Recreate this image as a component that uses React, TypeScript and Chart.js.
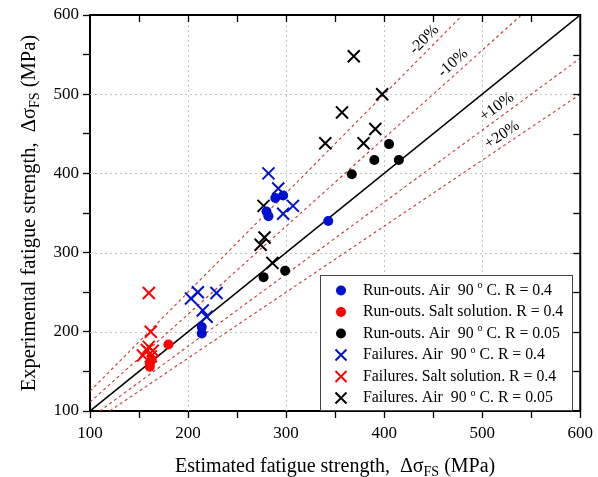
import React, { useEffect, useRef } from "react";
import { Chart, registerables } from "chart.js";

Chart.register(...registerables);

const FONT = "'Liberation Serif', 'Times New Roman', serif";

// ---- data (MPa) ----
const runAir04X = [343, 282, 280, 289, 297, 214, 214];
const runAir04Y = [340, 346, 352, 369, 372, 206, 198];

const runSaltX = [180, 161, 161, 163];
const runSaltY = [184, 156, 160, 165];

const runAir005X = [277, 299, 367, 390, 415, 405];
const runAir005Y = [269, 277, 399, 417, 417, 437];

const failAir04X = [282, 292, 307, 297, 210, 229, 203, 215, 219];
const failAir04Y = [400, 381, 359, 349, 250, 249, 242, 227, 219];

const failSaltX = [160, 162, 160, 154, 164, 162, 158];
const failSaltY = [249, 200, 181, 170, 176, 169, 177];

const failAir005X = [369, 398, 357, 391, 379, 340, 277, 278, 274, 286];
const failAir005Y = [548, 500, 477, 456, 438, 438, 359, 319, 310, 287];

const seriesNames = [
  "Run-outs. Air  90 ° C. R = 0.4",
  "Run-outs. Salt solution. R = 0.4",
  "Run-outs. Air  90 ° C. R = 0.05",
  "Failures. Air  90 ° C. R = 0.4",
  "Failures. Salt solution. R = 0.4",
  "Failures. Air  90 ° C. R = 0.05",
];

const deviationFactors = [0.8, 0.9, 1.1, 1.2];
const deviationLabels = ["-20%", "-10%", "+10%", "+20%"];
const refLineX = [100, 600];

const axisMin = 100;
const axisMax = 600;
const gridValues = [200, 300, 400, 500];
const xTitleParts = ["Estimated fatigue strength,  \u0394\u03C3", "FS", " (MPa)"];
const yTitleParts = ["Experimental fatigue strength,  \u0394\u03C3", "FS", " (MPa)"];

const BLUE = "#0010d0";
const RED = "#ff0000";
const BLACK = "#000000";
const seriesColors = [BLUE, RED, BLACK, BLUE, RED, BLACK];
const seriesIsCross = [false, false, false, true, true, true];

const zip = (xs: number[], ys: number[]) => xs.map((x, i) => ({ x, y: ys[i] }));

function drawTitle(ctx: CanvasRenderingContext2D, parts: string[], size: number) {
  const main = `${size}px ${FONT}`;
  const sub = `${Math.round(size * 0.68)}px ${FONT}`;
  ctx.font = main;
  const w0 = ctx.measureText(parts[0]).width;
  const w2 = ctx.measureText(parts[2]).width;
  ctx.font = sub;
  const w1 = ctx.measureText(parts[1]).width;
  const total = w0 + w1 + w2;
  let x = -total / 2;
  const base = size * 0.35;
  ctx.textAlign = "left";
  ctx.textBaseline = "alphabetic";
  ctx.fillStyle = "#000";
  ctx.font = main;
  ctx.fillText(parts[0], x, base);
  x += w0;
  ctx.font = sub;
  ctx.fillText(parts[1], x, base + size * 0.18);
  x += w1;
  ctx.font = main;
  ctx.fillText(parts[2], x, base);
}

function drawLegendText(ctx: CanvasRenderingContext2D, text: string, x: number, y: number, size: number) {
  const segs = text.split("°");
  ctx.textAlign = "left";
  ctx.textBaseline = "middle";
  ctx.fillStyle = "#000";
  let cx = x;
  segs.forEach((s, i) => {
    if (i > 0) {
      ctx.font = `${Math.round(size * 0.65)}px ${FONT}`;
      ctx.fillText("o", cx, y - size * 0.3);
      cx += ctx.measureText("o").width;
    }
    ctx.font = `${size}px ${FONT}`;
    ctx.fillText(s, cx, y);
    cx += ctx.measureText(s).width;
  });
}

const gridPlugin = {
  id: "dotgrid",
  beforeDatasetsDraw(chart: any) {
    const ctx: CanvasRenderingContext2D = chart.ctx;
    const { left, right, top, bottom } = chart.chartArea;
    const xs = chart.scales.x;
    const ys = chart.scales.y;
    ctx.save();
    ctx.strokeStyle = "#c2c2c2";
    ctx.lineWidth = 1;
    ctx.setLineDash([2, 3]);
    gridValues.forEach((v) => {
      const px = Math.round(xs.getPixelForValue(v)) + 0.5;
      ctx.beginPath();
      ctx.moveTo(px, top);
      ctx.lineTo(px, bottom);
      ctx.stroke();
      const py = Math.round(ys.getPixelForValue(v)) + 0.5;
      ctx.beginPath();
      ctx.moveTo(left, py);
      ctx.lineTo(right, py);
      ctx.stroke();
    });
    ctx.restore();
  },
};

const overlayPlugin = {
  id: "overlay",
  afterDraw(chart: any) {
    const ctx: CanvasRenderingContext2D = chart.ctx;
    const { left, right, top, bottom } = chart.chartArea;
    const xs = chart.scales.x;
    const ys = chart.scales.y;
    ctx.save();

    // top & right frame with inward ticks
    ctx.strokeStyle = "#000";
    ctx.lineWidth = 2;
    ctx.beginPath();
    ctx.moveTo(left - 1, top);
    ctx.lineTo(right, top);
    ctx.lineTo(right, bottom + 1);
    ctx.stroke();
    ctx.lineWidth = 1.3;
    for (let v = axisMin + 50; v < axisMax; v += 50) {
      const px = Math.round(xs.getPixelForValue(v)) + 0.5;
      ctx.beginPath();
      ctx.moveTo(px, top);
      ctx.lineTo(px, top + 7);
      ctx.stroke();
      const py = Math.round(ys.getPixelForValue(v)) + 0.5;
      ctx.beginPath();
      ctx.moveTo(right, py);
      ctx.lineTo(right - 7, py);
      ctx.stroke();
    }

    // deviation labels
    const anchors = [448, 477, 521, 526];
    deviationFactors.forEach((f, i) => {
      const ax = anchors[i];
      const px = xs.getPixelForValue(ax);
      const py = ys.getPixelForValue(ax / f);
      const dx = xs.getPixelForValue(ax + 10) - px;
      const dy = ys.getPixelForValue((ax + 10) / f) - py;
      const ang = Math.atan2(dy, dx);
      ctx.save();
      ctx.translate(px, py);
      ctx.rotate(ang);
      ctx.font = `16px ${FONT}`;
      ctx.fillStyle = "#000";
      ctx.textAlign = "center";
      ctx.textBaseline = "middle";
      ctx.fillText(deviationLabels[i], 0, -10);
      ctx.restore();
    });

    // legend
    const lx = 320.5, ly = 275.5, lw = 252, lh = 135;
    ctx.fillStyle = "#fff";
    ctx.fillRect(lx, ly, lw, lh);
    ctx.strokeStyle = "#444";
    ctx.lineWidth = 1;
    ctx.strokeRect(lx, ly, lw, lh);
    seriesNames.forEach((name, i) => {
      const cy = 290.5 + i * 21.5;
      const mx = 341;
      ctx.fillStyle = seriesColors[i];
      ctx.strokeStyle = seriesColors[i];
      if (seriesIsCross[i]) {
        ctx.lineWidth = 2;
        const h = 5.5;
        ctx.beginPath();
        ctx.moveTo(mx - h, cy - h);
        ctx.lineTo(mx + h, cy + h);
        ctx.moveTo(mx - h, cy + h);
        ctx.lineTo(mx + h, cy - h);
        ctx.stroke();
      } else {
        ctx.beginPath();
        ctx.arc(mx, cy, 5, 0, Math.PI * 2);
        ctx.fill();
      }
      drawLegendText(ctx, name, 363, cy, 15.8);
    });

    // axis titles
    ctx.save();
    ctx.translate((left + right) / 2, 465);
    drawTitle(ctx, xTitleParts, 20);
    ctx.restore();
    ctx.save();
    ctx.translate(28, (top + bottom) / 2);
    ctx.rotate(-Math.PI / 2);
    drawTitle(ctx, yTitleParts, 20.5);
    ctx.restore();

    ctx.restore();
  },
};

export default function App() {
  const ref = useRef<HTMLCanvasElement | null>(null);
  useEffect(() => {
    if (!ref.current) return;
    const pointSets = [
      zip(runAir04X, runAir04Y),
      zip(runSaltX, runSaltY),
      zip(runAir005X, runAir005Y),
      zip(failAir04X, failAir04Y),
      zip(failSaltX, failSaltY),
      zip(failAir005X, failAir005Y),
    ];
    const scatterSets = pointSets.map((data, i) => ({
      type: "scatter" as const,
      label: seriesNames[i],
      data,
      pointStyle: seriesIsCross[i] ? "crossRot" : "circle",
      pointRadius: seriesIsCross[i] ? 8.5 : 5,
      pointBorderWidth: seriesIsCross[i] ? 2 : 0,
      pointBackgroundColor: seriesColors[i],
      pointBorderColor: seriesColors[i],
      showLine: false,
      order: 1,
    }));
    const identity = {
      type: "line" as const,
      label: "1:1",
      data: refLineX.map((x) => ({ x, y: x })),
      borderColor: "#000",
      borderWidth: 1.6,
      pointRadius: 0,
      fill: false,
      order: 5,
    };
    const devSets = deviationFactors.map((f, i) => ({
      type: "line" as const,
      label: deviationLabels[i],
      data: refLineX.map((x) => ({ x, y: x / f })),
      borderColor: "#c03a36",
      borderWidth: 1.1,
      borderDash: [3, 3],
      pointRadius: 0,
      fill: false,
      order: 6,
    }));
    const tickFont = { family: FONT, size: 17 };
    const chart = new Chart(ref.current, {
      type: "scatter",
      data: { datasets: [...scatterSets, identity, ...devSets] as any },
      plugins: [gridPlugin, overlayPlugin],
      options: {
        animation: false,
        responsive: false,
        layout: { padding: { top: 15, right: 17, left: 0, bottom: 0 } },
        plugins: { legend: { display: false }, tooltip: { enabled: false } },
        scales: {
          x: {
            type: "linear",
            min: axisMin,
            max: axisMax,
            afterFit: (s: any) => {
              s.height = 66;
            },
            ticks: {
              stepSize: 50,
              autoSkip: false,
              maxRotation: 0,
              padding: 5,
              color: "#000",
              font: tickFont,
              callback: (v: any) => (Number(v) % 100 === 0 ? String(v) : ""),
            },
            grid: { drawOnChartArea: false, tickColor: "#000", tickLength: 7, tickWidth: 1.3, lineWidth: 1 },
            border: { color: "#000", width: 2 },
          },
          y: {
            type: "linear",
            min: axisMin,
            max: axisMax,
            afterFit: (s: any) => {
              s.width = 90;
            },
            ticks: {
              stepSize: 50,
              autoSkip: false,
              padding: 4,
              color: "#000",
              font: tickFont,
              callback: (v: any) => (Number(v) % 100 === 0 ? String(v) : ""),
            },
            grid: { drawOnChartArea: false, tickColor: "#000", tickLength: 7, tickWidth: 1.3, lineWidth: 1 },
            border: { color: "#000", width: 2 },
          },
        },
      } as any,
    });
    return () => chart.destroy();
  }, []);
  return (
    <div style={{ position: "absolute", left: 0, top: 0, width: 598, height: 477, background: "#fff" }}>
      <canvas ref={ref} width={598} height={477} style={{ display: "block" }} />
    </div>
  );
}
